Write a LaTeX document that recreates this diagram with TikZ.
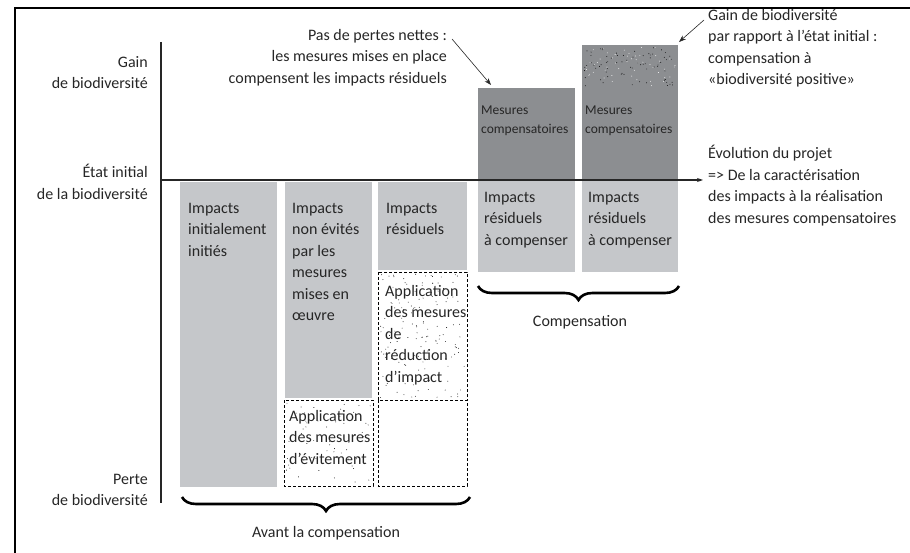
\documentclass[tikz,border=0pt]{standalone}
\usepackage{fontspec}
\setmainfont{Carlito}
\usetikzlibrary{arrows.meta,decorations.pathreplacing}
\definecolor{barlight}{RGB}{197,199,202}
\definecolor{bardark}{RGB}{140,142,145}
\definecolor{inkgrey}{RGB}{38,38,38}
\newcommand{\speckle}[5]{%
  \foreach \k in {1,...,#5}
    \fill ({#1+rnd*(#3-#1)},{#2+rnd*(#4-#2)}) circle (0.45);}
\begin{document}
\begin{tikzpicture}[x=1pt,y=-1pt,
  txt/.style={inner sep=0pt,align=left,anchor=north west,text=inkgrey,font=\fontsize{16}{21.5}\selectfont},
  lbl/.style={txt,align=right,anchor=north east},
  small/.style={txt,font=\fontsize{13.5}{19}\selectfont},
  hole/.style={draw=black,line width=0.7pt,dash pattern=on 3pt off 2pt},
  axis/.style={draw=inkgrey,line width=1.1pt},
  pointer/.style={draw=inkgrey,line width=0.6pt,-{Stealth[length=7pt,width=5pt]}},
  bracket/.style={decorate,decoration={brace,mirror,amplitude=14pt},line width=2.6pt}
  ]
\useasboundingbox (0,0) rectangle (910,553);
\draw[line width=2pt] (910,8) -- (15,8) -- (15,553);

% bars
\fill[barlight] (180,182) rectangle (277,487);
\fill[barlight] (285,182) rectangle (372,398);
\fill[barlight] (378,182) rectangle (467,270);
\fill[bardark] (478,88) rectangle (575,180);
\fill[barlight] (478,180) rectangle (575,272);
\fill[bardark] (582,45) rectangle (678,180);
\fill[barlight] (582,180) rectangle (678,272);

\pgfmathsetseed{11}
\speckle{286}{402}{371}{484}{60}
\speckle{380}{274}{465}{398}{140}
\begin{scope}[white]
  \speckle{584}{47}{676}{86}{50}
\end{scope}
\speckle{584}{47}{676}{86}{70}

\draw[hole] (284,400) rectangle (373,486);
\draw[hole] (378,272) rectangle (467,400);
\draw[hole] (378,400) rectangle (467,486);

% axes
\coordinate (top) at (161,42);
\coordinate (bottom) at (161,503);
\coordinate (origin) at (161,180);
\coordinate (evo tip) at (703,180);
\draw[axis] (top) -- (bottom);
\draw[axis,-{Stealth[length=6pt,width=4pt]}] (origin) -- (evo tip);

\node[lbl] (gain) at (148,56) {Gain\\de biodiversité};
\node[lbl] (etat) at (148,164) {État initial\\de la biodiversité};
\node[lbl] (perte) at (148,474) {Perte\\de biodiversité};

\node[txt] (initial) at (188,203) {Impacts\\initialement\\initiés};
\node[txt] (nonevit) at (292,203) {Impacts\\non évités\\par les\\mesures\\mises en\\œuvre};
\node[txt] (resid) at (386,203) {Impacts\\résiduels};
\node[txt] (reduc) at (385,285) {Application\\des mesures\\de\\réduction\\d'impact};
\node[txt] (evit) at (289,410) {Application\\des mesures\\d'évitement};
\node[txt] (acomp a) at (484,192) {Impacts\\résiduels\\à compenser};
\node[txt] (acomp b) at (588,192) {Impacts\\résiduels\\à compenser};
\node[small] (mes a) at (481,106) {Mesures\\compensatoires};
\node[small] (mes b) at (585,106) {Mesures\\compensatoires};

\node[lbl] (pertes) at (447,29) {Pas de pertes nettes :\\les mesures mises en place\\compensent les impacts résiduels};
\node[txt] (gainpos) at (708,9) {Gain de biodiversité\\par rapport à l'état initial :\\compensation à\\«biodiversité positive»};
\node[txt] (evol) at (708,145) {Évolution du projet\\=> De la caractérisation\\des impacts à la réalisation\\des mesures compensatoires};

\coordinate (pp) at (452,39);
\coordinate (mes tip) at (491,85);
\draw[pointer] (pp) -- (mes tip);
\coordinate (gp) at (704,20);
\coordinate (pos tip) at (679,42);
\draw[pointer] (gp) -- (pos tip);

% braces
\coordinate (avant l) at (182,497);
\coordinate (avant r) at (470,497);
\draw[bracket] (avant l) -- (avant r);
\node[txt,anchor=center] (avant) at (326,533) {Avant la compensation};
\coordinate (comp l) at (478,286);
\coordinate (comp r) at (679,286);
\draw[bracket] (comp l) -- (comp r);
\node[txt,anchor=center] (comp) at (580,322) {Compensation};
\end{tikzpicture}
\end{document}
